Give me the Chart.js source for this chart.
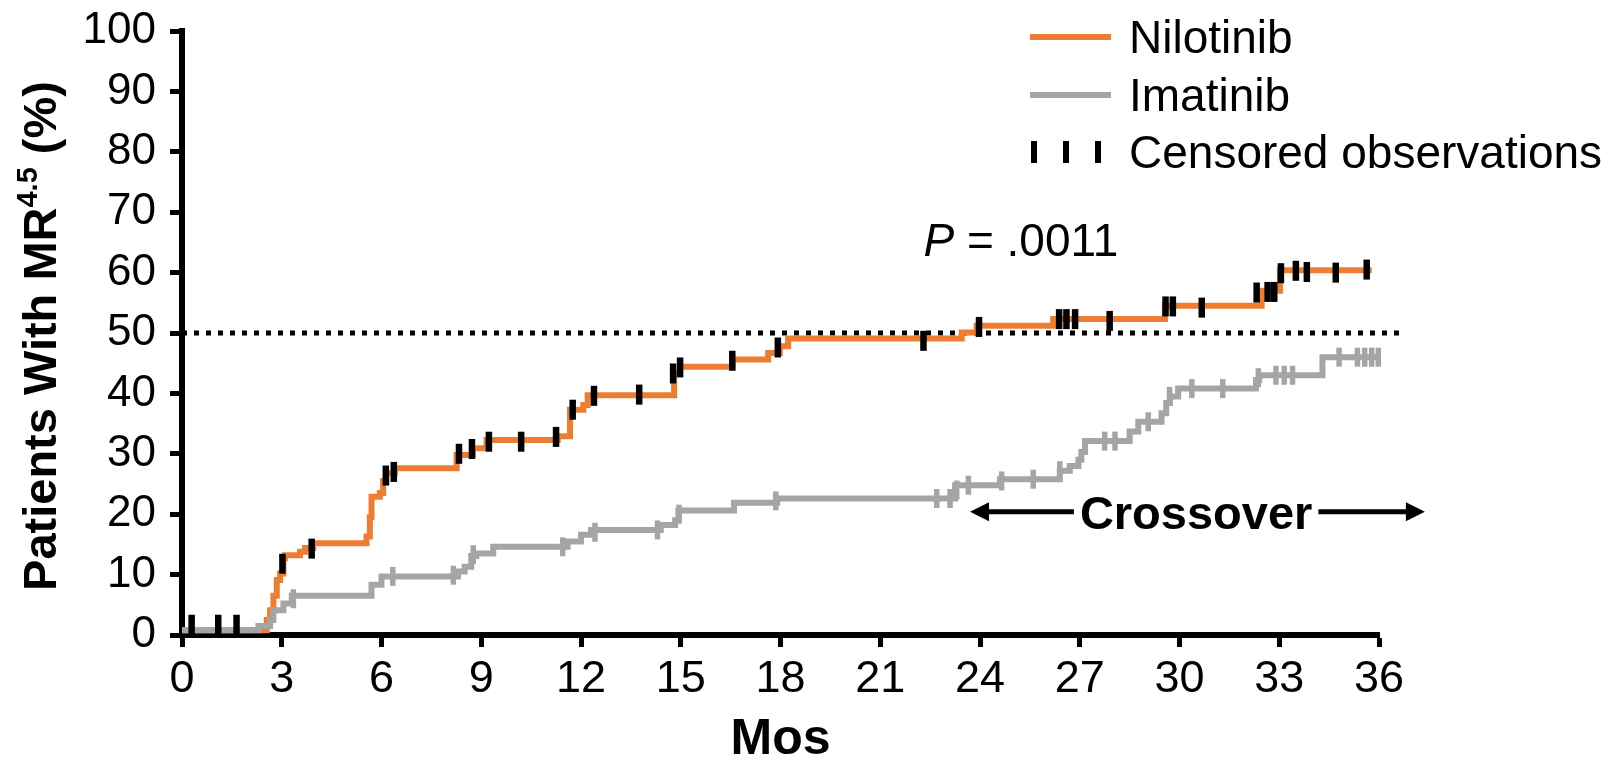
<!DOCTYPE html>
<html>
<head>
<meta charset="utf-8">
<script src="https://cdn.jsdelivr.net/npm/chart.js@4.4.0/dist/chart.umd.min.js"></script>
<style>
  html, body { margin: 0; padding: 0; background: #fff; }
</style>
</head>
<body>
<canvas id="kmChart" width="1621" height="760"></canvas>
<script>
// Cumulative incidence of MR4.5, nilotinib vs imatinib (step curves + censor ticks)
const xTicks = [0, 3, 6, 9, 12, 15, 18, 21, 24, 27, 30, 33, 36];
const yTicks = [0, 10, 20, 30, 40, 50, 60, 70, 80, 90, 100];

// step points: value becomes pct at time t
const niloTimes = [0, 2.55, 2.65, 2.75, 2.85, 2.95, 3.05, 3.1, 3.55, 3.7, 3.95, 5.55, 5.65, 5.7, 5.95, 6.05, 6.15, 6.4, 8.26, 8.75,
  9.16, 11.3, 11.67, 12.07, 12.2, 14.8, 14.98, 16.56, 17.63, 17.98, 18.23, 23.45, 23.9, 26.2, 29.56, 32.47, 33.02, 35.78];
const niloPct = [0.8, 2.5, 4.1, 6.5, 9.1, 10.2, 12.7, 13.2, 13.8, 14.4, 15.2, 16.3, 19.5, 22.9, 23.5, 25.5, 26.8, 27.6, 29.8, 30.9,
  32.3, 32.9, 37.3, 38.1, 39.7, 43.3, 44.4, 45.6, 46.7, 47.8, 49.1, 50.1, 51.2, 52.3, 54.5, 57.0, 60.4, 60.4];
const niloCensorT = [0.29, 1.09, 1.64, 3.02, 3.9, 6.13, 6.37, 8.33, 8.72, 9.23, 10.2, 11.25, 11.75, 12.39, 13.75, 14.77, 14.98, 16.55,
  17.92, 22.3, 23.97, 26.38, 26.6, 26.86, 27.9, 29.58, 29.8, 30.67, 32.32, 32.65, 32.85, 33.05, 33.5, 33.83, 34.7, 35.63];
const niloCensorP = [1.7, 1.7, 1.7, 11.8, 14.3, 26.4, 27.0, 30.0, 30.8, 32.0, 32.0, 32.8, 37.3, 39.6, 39.8, 43.3, 44.3, 45.4,
  47.6, 48.7, 51.0, 52.3, 52.3, 52.3, 52.0, 54.4, 54.4, 54.2, 56.7, 56.8, 56.8, 59.9, 60.3, 60.1, 60.0, 60.5];

const imaTimes = [0, 2.3, 2.65, 2.75, 3.05, 3.3, 5.7, 6.0, 8.3, 8.5, 8.7, 8.85, 9.36, 11.6, 12.0, 12.3, 14.4, 14.83, 14.93, 16.6,
  17.9, 23.25, 24.6, 26.4, 26.7, 26.96, 27.05, 27.16, 28.5, 28.76, 29.46, 29.6, 29.71, 29.96, 32.3, 32.4, 34.3, 36.03];
const imaPct = [0.8, 1.5, 2.5, 4.1, 5.2, 6.5, 8.3, 9.7, 10.5, 11.3, 13.1, 13.5, 14.6, 15.5, 16.6, 17.4, 18.2, 19.0, 20.6, 21.9,
  22.6, 24.8, 25.8, 27.2, 28.0, 29.0, 30.3, 32.1, 33.7, 35.3, 36.7, 38.4, 39.5, 40.8, 42.2, 43.0, 46.0, 46.0];
const imaCensorT = [3.35, 6.34, 8.16, 8.76, 11.45, 12.42, 14.3, 14.95, 17.86, 22.7, 23.1, 23.3, 23.65, 24.65, 25.6, 26.4,
  27.75, 28.06, 29.06, 29.7, 30.37, 31.3, 32.37, 32.9, 33.15, 33.4, 34.8, 35.35, 35.57, 35.78, 35.98];
const imaCensorP = [6.0, 9.7, 9.9, 13.3, 14.6, 17.0, 17.4, 20.0, 22.2, 22.6, 22.6, 24.0, 24.8, 25.5, 25.8, 27.2,
  32.1, 32.1, 35.3, 39.5, 40.8, 40.8, 42.6, 43.0, 43.0, 43.0, 46.0, 46.0, 46.0, 46.0, 46.0];

// 50% reference line and annotations
const refLineX = [0, 36.7];
const refLineY = [50, 50];
const legendLabels = ['Nilotinib', 'Imatinib', 'Censored observations'];
const yTitle = ['Patients With MR', '4.5', ' (%)'];
const pValueText = ['P', ' = .0011'];
const pValueAt = [22.3, 65.4];         // month (left edge), % (text centre)
const crossoverText = 'Crossover';
const crossoverRange = [23.7, 37.38];  // arrow tips, months
const crossoverMid = 30.5;
const crossoverY = 20.4;

const ORANGE = '#ED7D31';
const GREY = '#A5A5A5';
const FONT = "'Liberation Sans', Arial, sans-serif";

const pts = (xs, ys) => xs.map((v, i) => ({ x: v, y: ys[i] }));

const overlay = {
  id: 'overlay',
  afterDraw(chart) {
    const { ctx } = chart;
    const xs = chart.scales.x, ys = chart.scales.y;
    ctx.save();
    ctx.fillStyle = '#000';
    ctx.textBaseline = 'alphabetic';

    // rotated y title with superscript
    const big = 47, small = 29;
    ctx.font = `bold ${big}px ${FONT}`;
    const w1 = ctx.measureText(yTitle[0]).width;
    const w3 = ctx.measureText(yTitle[2]).width;
    ctx.font = `bold ${small}px ${FONT}`;
    const w2 = ctx.measureText(yTitle[1]).width;
    const total = w1 + w2 + w3;
    ctx.save();
    ctx.translate(39, (ys.top + ys.bottom) / 2 + 3);
    ctx.rotate(-Math.PI / 2);
    let cx = -total / 2;
    const base = big * 0.358;
    ctx.font = `bold ${big}px ${FONT}`;
    ctx.fillText(yTitle[0], cx, base);
    cx += w1;
    ctx.font = `bold ${small}px ${FONT}`;
    ctx.fillText(yTitle[1], cx, base - big * 0.4);
    cx += w2;
    ctx.font = `bold ${big}px ${FONT}`;
    ctx.fillText(yTitle[2], cx, base);
    ctx.restore();

    // legend
    const lf = 46;
    const rows = [37, 95, 152];
    ctx.font = `${lf}px ${FONT}`;
    ctx.lineCap = 'butt';
    ctx.lineWidth = 6;
    ctx.strokeStyle = ORANGE;
    ctx.beginPath(); ctx.moveTo(1030, rows[0]); ctx.lineTo(1111, rows[0]); ctx.stroke();
    ctx.strokeStyle = GREY;
    ctx.beginPath(); ctx.moveTo(1030, rows[1]); ctx.lineTo(1111, rows[1]); ctx.stroke();
    ctx.strokeStyle = '#000';
    [1034, 1066, 1098].forEach(px => {
      ctx.beginPath(); ctx.moveTo(px, rows[2] - 11); ctx.lineTo(px, rows[2] + 11); ctx.stroke();
    });
    legendLabels.forEach((t, i) => ctx.fillText(t, 1129, rows[i] + lf * 0.358));

    // P value
    const pf = 46;
    const px0 = xs.getPixelForValue(pValueAt[0]);
    const py = ys.getPixelForValue(pValueAt[1]) + pf * 0.358;
    ctx.font = `italic ${pf}px ${FONT}`;
    ctx.fillText(pValueText[0], px0, py);
    const pw = ctx.measureText(pValueText[0]).width;
    ctx.font = `${pf}px ${FONT}`;
    ctx.fillText(pValueText[1], px0 + pw, py);

    // crossover arrow
    const cf = 47;
    const ay = ys.getPixelForValue(crossoverY);
    const xl = xs.getPixelForValue(crossoverRange[0]);
    const xr = xs.getPixelForValue(crossoverRange[1]);
    const xm = xs.getPixelForValue(crossoverMid);
    ctx.font = `bold ${cf}px ${FONT}`;
    const tw = ctx.measureText(crossoverText).width;
    ctx.textAlign = 'center';
    ctx.fillText(crossoverText, xm, ay + cf * 0.358);
    const head = 19, hh = 9.5;
    ctx.lineWidth = 5;
    ctx.beginPath();
    ctx.moveTo(xl + head - 1, ay); ctx.lineTo(xm - tw / 2 - 6, ay);
    ctx.moveTo(xm + tw / 2 + 6, ay); ctx.lineTo(xr - head + 1, ay);
    ctx.stroke();
    ctx.beginPath();
    ctx.moveTo(xl, ay); ctx.lineTo(xl + head, ay - hh); ctx.lineTo(xl + head, ay + hh); ctx.closePath();
    ctx.moveTo(xr, ay); ctx.lineTo(xr - head, ay - hh); ctx.lineTo(xr - head, ay + hh); ctx.closePath();
    ctx.fill();
    ctx.restore();
  }
};

const ctx = document.getElementById('kmChart').getContext('2d');

const kmChart = new Chart(ctx, {
  type: 'line',
  data: {
    datasets: [
      {
        label: 'Nilotinib censored',
        data: pts(niloCensorT, niloCensorP),
        showLine: false,
        pointStyle: 'line',
        pointRotation: 90,
        pointRadius: 10,
        pointBorderWidth: 6.5,
        pointBorderColor: '#000',
        pointBackgroundColor: '#000',
        clip: false,
        order: 0
      },
      {
        label: 'Imatinib censored',
        data: pts(imaCensorT, imaCensorP),
        showLine: false,
        pointStyle: 'line',
        pointRotation: 90,
        pointRadius: 9.5,
        pointBorderWidth: 5.5,
        pointBorderColor: GREY,
        pointBackgroundColor: GREY,
        clip: false,
        order: 1
      },
      {
        label: 'Imatinib',
        data: pts(imaTimes, imaPct),
        stepped: 'before',
        borderColor: GREY,
        borderWidth: 6,
        pointRadius: 0,
        fill: false,
        order: 2
      },
      {
        label: 'Nilotinib',
        data: pts(niloTimes, niloPct),
        stepped: 'before',
        borderColor: ORANGE,
        borderWidth: 6,
        pointRadius: 0,
        fill: false,
        order: 3
      },
      {
        label: '50%',
        data: pts(refLineX, refLineY),
        borderColor: '#000',
        borderWidth: 5,
        borderDash: [5, 7],
        pointRadius: 0,
        fill: false,
        clip: false,
        order: 4
      }
    ]
  },
  options: {
    responsive: false,
    animation: false,
    events: [],
    layout: { padding: { top: 31, right: 242, bottom: 0, left: 0 } },
    plugins: {
      legend: { display: false },
      tooltip: { enabled: false }
    },
    scales: {
      x: {
        type: 'linear',
        min: 0,
        max: 36,
        afterBuildTicks: s => { s.ticks = xTicks.map(v => ({ value: v })); },
        afterFit: s => { s.height = 125; s.paddingLeft = 0; s.paddingRight = 0; },
        grid: { display: true, drawOnChartArea: false, drawTicks: true, tickLength: 12, tickWidth: 5, tickColor: '#000' },
        border: { display: true, color: '#000', width: 6 },
        ticks: { color: '#000', font: { family: FONT, size: 45 }, padding: 6, maxRotation: 0, autoSkip: false },
        title: { display: true, text: 'Mos', color: '#000', font: { family: FONT, size: 50, weight: 'bold', lineHeight: 0.8 }, padding: 0 }
      },
      y: {
        min: 0,
        max: 100,
        afterBuildTicks: s => { s.ticks = yTicks.map(v => ({ value: v })); },
        afterFit: s => { s.width = 182; s.paddingTop = 0; s.paddingBottom = 0; },
        grid: { display: true, drawOnChartArea: false, drawTicks: true, tickLength: 12, tickWidth: 5, tickColor: '#000' },
        border: { display: true, color: '#000', width: 6 },
        ticks: { color: '#000', font: { family: FONT, size: 44 }, padding: 14, autoSkip: false }
      }
    }
  },
  plugins: [overlay]
});
</script>
</body>
</html>
